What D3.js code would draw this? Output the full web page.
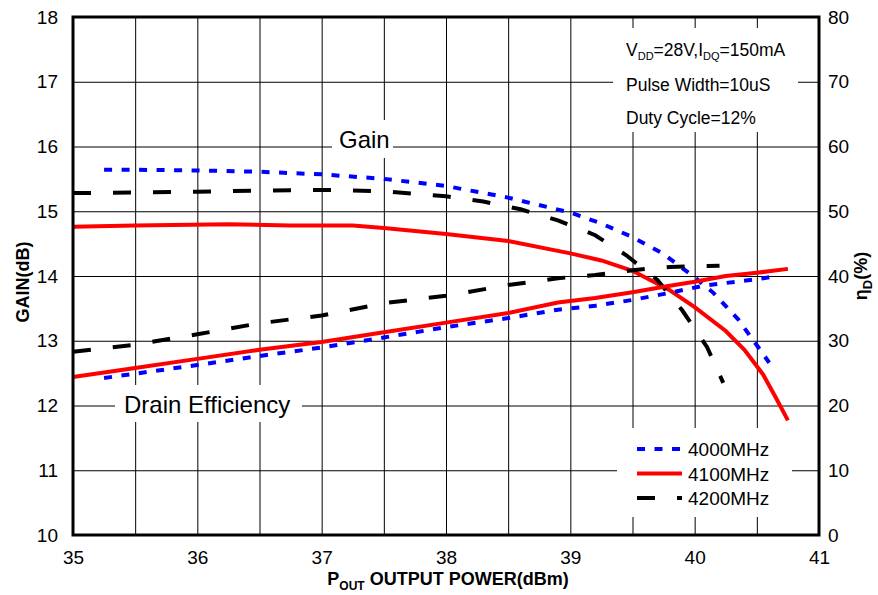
<!DOCTYPE html>
<html>
<head>
<meta charset="utf-8">
<script src="https://cdn.jsdelivr.net/npm/d3@7"></script>
<style>
  body { margin: 0; background: #fff; }
  svg text { font-family: "Liberation Sans", Arial, sans-serif; fill: #000; }
  .grid line { stroke: #000; stroke-width: 1; }
  .grid path { display: none; }
  .ticks path, .ticks line { display: none; }
</style>
</head>
<body>
<div id="chart"></div>
<script>

// x values: output power (dBm)
const xTicks = [35, 36, 37, 38, 39, 40, 41];
const gainTicks = [10, 11, 12, 13, 14, 15, 16, 17, 18];
const effTicks = [0, 10, 20, 30, 40, 50, 60, 70, 80];

// gain curves
const gainPout4000 = [35.25, 35.5, 36, 36.5, 37, 37.5, 38, 38.5, 39, 39.25, 39.5, 39.75, 40, 40.15, 40.35, 40.5, 40.6];
const gain4000 = [15.64, 15.64, 15.63, 15.61, 15.57, 15.5, 15.39, 15.21, 14.98, 14.81, 14.6, 14.34, 13.98, 13.74, 13.33, 12.93, 12.66];

const gainPout4100 = [35, 35.5, 36.25, 36.75, 37.25, 37.5, 38, 38.5, 39, 39.25, 39.5, 39.8, 40, 40.25, 40.4, 40.55, 40.65, 40.75];
const gain4100 = [14.76, 14.78, 14.8, 14.78, 14.78, 14.74, 14.65, 14.54, 14.35, 14.24, 14.08, 13.78, 13.52, 13.15, 12.86, 12.48, 12.13, 11.77];

const gainPout4200 = [35, 35.5, 36, 36.5, 37, 37.5, 38, 38.3, 38.6, 38.9, 39.2, 39.45, 39.7, 39.9, 40.1, 40.23];
const gain4200 = [15.28, 15.29, 15.3, 15.32, 15.33, 15.31, 15.23, 15.15, 15.03, 14.86, 14.63, 14.32, 13.94, 13.47, 12.9, 12.35];

// drain efficiency curves (%)
const effPout4000 = [35.25, 36, 36.5, 37, 37.5, 38, 38.5, 38.9, 39.2, 39.5, 39.8, 40.07, 40.5, 40.6];
const eff4000 = [24.25, 26.25, 27.65, 28.95, 30.5, 32.1, 33.5, 34.8, 35.4, 36.3, 37.4, 38.5, 39.5, 39.8];

const effPout4100 = [35, 35.5, 36, 36.5, 37, 37.5, 38, 38.5, 38.9, 39.2, 39.5, 39.8, 40, 40.25, 40.5, 40.75];
const eff4100 = [24.4, 25.8, 27.2, 28.6, 29.8, 31.3, 32.8, 34.3, 35.9, 36.6, 37.5, 38.5, 39.1, 40.0, 40.5, 41.1];

const effPout4200 = [35, 35.5, 36, 36.5, 37, 37.5, 38, 38.5, 38.9, 39.2, 39.5, 39.8, 40.2];
const eff4200 = [28.3, 29.4, 31.0, 32.7, 33.9, 35.8, 36.95, 38.6, 39.65, 40.15, 40.9, 41.4, 41.6];

const seriesNames = ['4000MHz', '4100MHz', '4200MHz'];
const seriesColors = ['#0000ff', '#ff0000', '#000000'];
const seriesDash = ['8,9.5', null, '18,22'];

const width = 878, height = 595;
const plot = {left: 73, right: 819, top: 17, bottom: 535};

const svg = d3.select('#chart').append('svg')
    .attr('width', width)
    .attr('height', height)
    .attr('viewBox', [0, 0, width, height]);

const x = d3.scaleLinear().domain([35, 41]).range([plot.left, plot.right]);
const yGain = d3.scaleLinear().domain([10, 18]).range([plot.bottom, plot.top]);
const yEff = d3.scaleLinear().domain([0, 80]).range([plot.bottom, plot.top]);

const plotW = plot.right - plot.left;
const plotH = plot.bottom - plot.top;

// grid
svg.append('g')
    .attr('class', 'grid')
    .attr('transform', 'translate(0,' + plot.bottom + ')')
    .call(d3.axisBottom(x)
        .tickValues(d3.range(35.5, 41, 0.5))
        .tickSize(-plotH)
        .tickFormat(''));

svg.append('g')
    .attr('class', 'grid')
    .attr('transform', 'translate(' + plot.left + ',0)')
    .call(d3.axisLeft(yGain)
        .tickValues(gainTicks.slice(1, -1))
        .tickSize(-plotW)
        .tickFormat(''));

// white boxes behind the labels
const boxes = [
    {x: 613, y: 28, w: 185, h: 104},
    {x: 332, y: 120, w: 61, h: 38},
    {x: 115, y: 385, w: 187, h: 37},
    {x: 617, y: 428, w: 175, h: 89}
];
svg.append('g')
    .selectAll('rect')
    .data(boxes)
    .join('rect')
    .attr('x', d => d.x)
    .attr('y', d => d.y)
    .attr('width', d => d.w)
    .attr('height', d => d.h)
    .attr('fill', '#fff');

// curves
const zipPts = (xs, ys) => xs.map((v, i) => [v, ys[i]]);

const gainSeries = [
    zipPts(gainPout4000, gain4000),
    zipPts(gainPout4100, gain4100),
    zipPts(gainPout4200, gain4200)
];
const effSeries = [
    zipPts(effPout4000, eff4000),
    zipPts(effPout4100, eff4100),
    zipPts(effPout4200, eff4200)
];

const gainLine = d3.line().x(d => x(d[0])).y(d => yGain(d[1]));
const effLine = d3.line().x(d => x(d[0])).y(d => yEff(d[1]));

function drawCurves(data, lineGen) {
    svg.append('g')
        .selectAll('path')
        .data(data)
        .join('path')
        .attr('d', lineGen)
        .attr('fill', 'none')
        .attr('stroke', (d, i) => seriesColors[i])
        .attr('stroke-width', 4)
        .attr('stroke-dasharray', (d, i) => seriesDash[i]);
}
drawCurves(gainSeries, gainLine);
drawCurves(effSeries, effLine);

// frame
svg.append('rect')
    .attr('x', plot.left)
    .attr('y', plot.top)
    .attr('width', plotW)
    .attr('height', plotH)
    .attr('fill', 'none')
    .attr('stroke', '#000')
    .attr('stroke-width', 3);

// tick labels
const leftAx = svg.append('g')
    .attr('class', 'ticks')
    .attr('transform', 'translate(' + plot.left + ',0)')
    .call(d3.axisLeft(yGain).tickValues(gainTicks).tickSize(0).tickPadding(15));

const rightAx = svg.append('g')
    .attr('class', 'ticks')
    .attr('transform', 'translate(' + plot.right + ',0)')
    .call(d3.axisRight(yEff).tickValues(effTicks).tickSize(0).tickPadding(9));

const bottomAx = svg.append('g')
    .attr('class', 'ticks')
    .attr('transform', 'translate(0,' + plot.bottom + ')')
    .call(d3.axisBottom(x).tickValues(xTicks).tickFormat(d3.format('d'))
        .tickSize(0).tickPadding(16));

[leftAx, rightAx, bottomAx].forEach(ax => {
    ax.selectAll('text')
        .style('font-family', '"Liberation Sans", Arial, sans-serif')
        .style('font-size', '19px')
        .attr('fill', '#000');
});

// axis titles
const xTitle = svg.append('text')
    .attr('x', 448)
    .attr('y', 585)
    .attr('text-anchor', 'middle')
    .style('font-size', '18px')
    .style('font-weight', 'bold');
xTitle.append('tspan').text('P');
xTitle.append('tspan').attr('dy', 5).style('font-size', '12px').text('OUT');
xTitle.append('tspan').attr('dy', -5).text(' OUTPUT POWER(dBm)');

svg.append('text')
    .attr('transform', 'translate(29,282) rotate(-90)')
    .attr('text-anchor', 'middle')
    .style('font-size', '18px')
    .style('font-weight', 'bold')
    .text('GAIN(dB)');

const effTitle = svg.append('text')
    .attr('transform', 'translate(867,276) rotate(-90)')
    .attr('text-anchor', 'middle')
    .style('font-size', '18px')
    .style('font-weight', 'bold');
effTitle.append('tspan').text('η');
effTitle.append('tspan').attr('dy', 5).style('font-size', '13px').text('D');
effTitle.append('tspan').attr('dy', -5).text('(%)');

// conditions
const cond = svg.append('g').style('font-size', '17.5px');
const c1 = cond.append('text').attr('x', 626).attr('y', 56);
c1.append('tspan').text('V');
c1.append('tspan').attr('dy', 4).style('font-size', '11px').text('DD');
c1.append('tspan').attr('dy', -4).text('=28V,I');
c1.append('tspan').attr('dy', 4).style('font-size', '11px').text('DQ');
c1.append('tspan').attr('dy', -4).text('=150mA');
cond.append('text').attr('x', 626).attr('y', 91).text('Pulse Width=10uS');
cond.append('text').attr('x', 626).attr('y', 124).text('Duty Cycle=12%');

// curve labels
svg.append('text')
    .attr('x', 339).attr('y', 148)
    .style('font-size', '24px')
    .text('Gain');

svg.append('text')
    .attr('x', 124).attr('y', 413)
    .style('font-size', '24px')
    .text('Drain Efficiency');

// legend
const legend = svg.append('g')
    .attr('transform', 'translate(637,449)');

const rows = legend.selectAll('g')
    .data(seriesNames)
    .join('g')
    .attr('transform', (d, i) => 'translate(0,' + (i * 24.5) + ')');

rows.append('line')
    .attr('x1', 0).attr('x2', 45)
    .attr('y1', 0).attr('y2', 0)
    .attr('stroke', (d, i) => seriesColors[i])
    .attr('stroke-width', 4)
    .attr('stroke-dasharray', (d, i) => seriesDash[i]);

rows.append('text')
    .attr('x', 51)
    .attr('y', 7)
    .style('font-size', '19px')
    .text(d => d);

</script>
</body>
</html>
